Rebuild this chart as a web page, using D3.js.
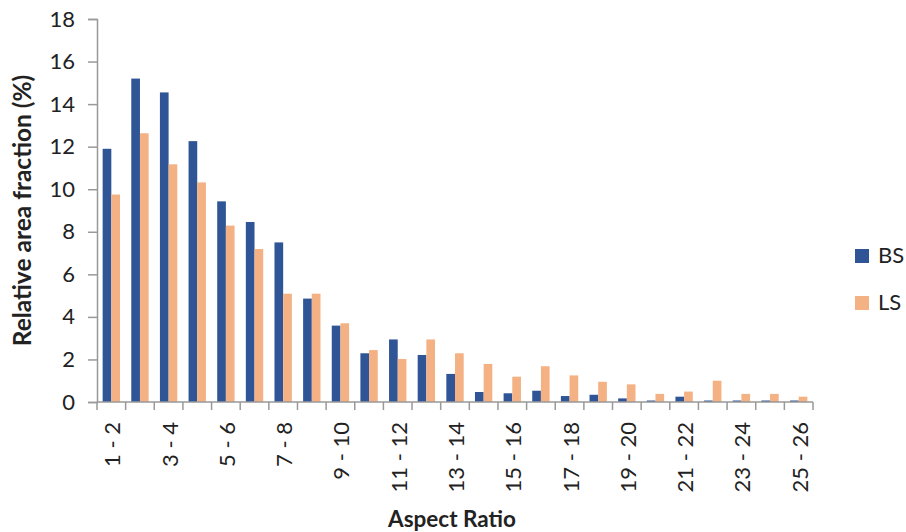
<!DOCTYPE html>
<html><head><meta charset="utf-8">
<script src="https://cdn.jsdelivr.net/npm/d3@7"></script>
<style>
body{margin:0;background:#fff;}
text{font-family:Lato,"Open Sans",sans-serif;fill:#222;}
</style></head>
<body><svg id="c" width="906" height="532"></svg>
<script>
const categories = ["1 - 2","2 - 3","3 - 4","4 - 5","5 - 6","6 - 7","7 - 8","8 - 9","9 - 10","10 - 11","11 - 12","12 - 13","13 - 14","14 - 15","15 - 16","16 - 17","17 - 18","18 - 19","19 - 20","20 - 21","21 - 22","22 - 23","23 - 24","24 - 25","25 - 26"];
const seriesNames = ["BS","LS"];
const bsValues = [11.9,15.2,14.55,12.26,9.43,8.46,7.5,4.86,3.59,2.29,2.94,2.21,1.32,0.47,0.41,0.53,0.28,0.34,0.17,0.07,0.25,0.07,0.07,0.07,0.07];
const lsValues = [9.75,12.63,11.17,10.32,8.29,7.19,5.09,5.09,3.7,2.44,2.02,2.94,2.29,1.79,1.19,1.68,1.25,0.95,0.83,0.38,0.49,1.0,0.38,0.38,0.25];
const yTicks = [0,2,4,6,8,10,12,14,16,18];
const colors = {BS:"#2F5597", LS:"#F4B183"};

(function(){
const svg = d3.select("#c");
const mLeft = 97, mRight = 813, mTop = 19, mBottom = 402;
const x = d3.scaleBand().domain(categories).range([mLeft,mRight]).paddingInner(0).paddingOuter(0);
const xs = d3.scaleBand().domain(seriesNames).range([0,x.bandwidth()]).paddingInner(0).paddingOuter(0.65);
const y = d3.scaleLinear().domain([0,18]).range([mBottom,mTop]);
const axisColor = "#999";

// bars
const data = categories.map((c,i)=>({c, BS:bsValues[i], LS:lsValues[i]}));
const g = svg.append("g");
g.selectAll("g.grp").data(data).join("g").attr("class","grp")
 .attr("transform",d=>`translate(${x(d.c)},0)`)
 .selectAll("rect").data(d=>seriesNames.map(s=>({s,v:d[s]}))).join("rect")
 .attr("x",d=>xs(d.s)).attr("width",xs.bandwidth())
 .attr("y",d=>y(d.v)).attr("height",d=>mBottom-y(d.v))
 .attr("fill",d=>colors[d.s]);

// y axis
const ya = svg.append("g").attr("transform",`translate(${mLeft},0)`)
 .call(d3.axisLeft(y).tickValues(yTicks).tickSize(9).tickPadding(13).tickFormat(d3.format("d")));
ya.select(".domain").attr("stroke",axisColor).attr("stroke-width",1.5);
ya.selectAll(".tick line").attr("stroke",axisColor).attr("stroke-width",1.5);
ya.selectAll(".tick text").style("font-size","22px").attr("fill","#222");

// x axis line & boundary ticks
const xa = svg.append("g");
xa.append("line").attr("x1",mLeft).attr("x2",mRight).attr("y1",mBottom).attr("y2",mBottom).attr("stroke",axisColor).attr("stroke-width",1.5);
const bounds = categories.map(c=>x(c)).concat([x(categories[categories.length-1])+x.bandwidth()]);
xa.selectAll("line.t").data(bounds).join("line").attr("class","t")
 .attr("x1",d=>d).attr("x2",d=>d).attr("y1",mBottom).attr("y2",mBottom+8)
 .attr("stroke",axisColor).attr("stroke-width",1.5);
xa.selectAll("text.xl").data(categories.filter((c,i)=>i%2===0)).join("text").attr("class","xl")
 .attr("transform",d=>`translate(${x(d)+x.bandwidth()/2+9},${mBottom+20}) rotate(-90)`)
 .attr("text-anchor","end").style("font-size","22px").text(d=>d);

// axis titles
svg.append("text").attr("x",452).attr("y",526.5).attr("text-anchor","middle")
 .style("font-size","22.5px").style("font-weight","bold").text("Aspect Ratio");
svg.append("text").attr("transform","translate(31,210.5) rotate(-90)").attr("text-anchor","middle")
 .style("font-size","24.5px").style("font-weight","bold").text("Relative area fraction (%)");

// legend
const lg = svg.append("g").attr("transform","translate(855,249)");
seriesNames.forEach((s,i)=>{
  lg.append("rect").attr("x",0).attr("y",i*47).attr("width",14).attr("height",14).attr("fill",colors[s]);
  lg.append("text").attr("x",23).attr("y",i*47+14).style("font-size","22px").text(s);
});
})();
</script></body></html>
